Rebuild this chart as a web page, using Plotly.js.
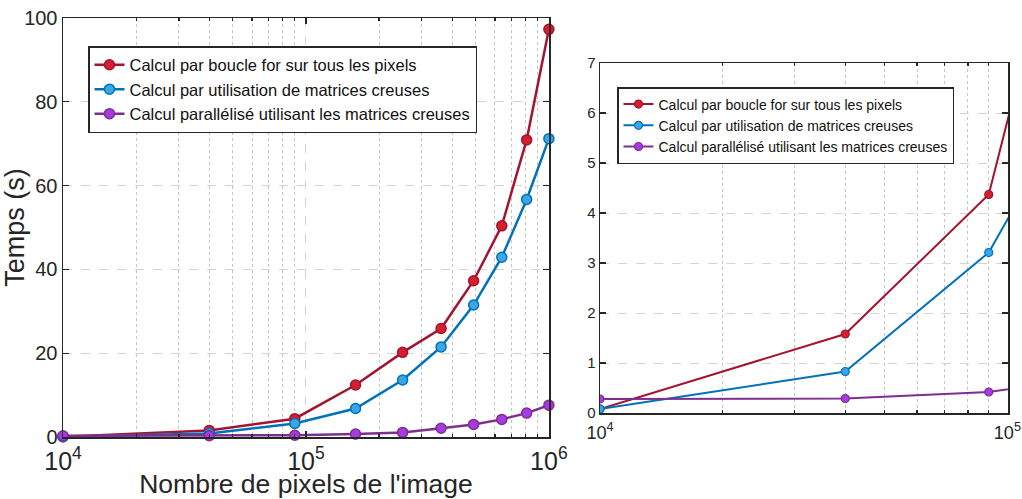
<!DOCTYPE html>
<html>
<head>
<meta charset="utf-8">
<script src="https://cdn.plot.ly/plotly-3.0.1.min.js"></script>
<style>html,body{margin:0;padding:0;background:#fff;}#chart{width:1022px;height:499px;}</style>
</head>
<body>
<div id="chart"></div>
<script>
// Number of pixels in the image (100x100 ... 1000x1000)
const nbPixels = [1e4, 4e4, 9e4, 1.6e5, 2.5e5, 3.6e5, 4.9e5, 6.4e5, 8.1e5, 1e6];
// Computation times (s)
const tBoucle    = [0.08, 1.58, 4.37, 12.4, 20.2, 25.9, 37.3, 50.4, 70.9, 97.3];
const tCreuses   = [0.08, 0.83, 3.21, 6.8, 13.6, 21.5, 31.5, 42.9, 56.7, 71.2];
const tParallele = [0.28, 0.29, 0.42, 0.7, 1.1, 2.1, 3.0, 4.2, 5.7, 7.6];
const seriesNames = [
  'Calcul par boucle for sur tous les pixels',
  'Calcul par utilisation de matrices creuses',
  'Calcul parallélisé utilisant les matrices creuses'
];
const lineColors = ['#A2142F', '#0072BD', '#7E2F8E'];
const fillColors = ['#D51F2E', '#3AA6E4', '#A53BE0'];
const seriesData = [tBoucle, tCreuses, tParallele];

const traces = [];
seriesData.forEach((vals, i) => {
  traces.push({
    x: nbPixels, y: vals, xaxis: 'x', yaxis: 'y', legend: 'legend',
    name: seriesNames[i], mode: 'lines+markers',
    line: {color: lineColors[i], width: 2.5},
    marker: {size: 10, color: fillColors[i], line: {color: lineColors[i], width: 1.5}},
    cliponaxis: false
  });
});
seriesData.forEach((vals, i) => {
  traces.push({
    x: nbPixels, y: vals, xaxis: 'x2', yaxis: 'y2', legend: 'legend2',
    name: seriesNames[i], mode: 'lines+markers',
    line: {color: lineColors[i], width: 2},
    marker: {size: 8, color: fillColors[i], line: {color: lineColors[i], width: 1.2}}
  });
});

const W = 1022, H = 499;
const font = 'Liberation Sans, Arial, sans-serif';
function xLog(range, fs) {
  return {
    type: 'log', range: range, dtick: 1, exponentformat: 'power', showexponent: 'all',
    tickfont: {size: fs, color: '#262626', family: font},
    ticks: 'inside', ticklen: 6, tickcolor: '#262626', tickwidth: 1.2,
    mirror: 'ticks', showline: true, linewidth: 1.5, linecolor: '#262626',
    showgrid: true, gridcolor: '#d4d4d4', griddash: 'dash', gridwidth: 1,
    zeroline: false, automargin: false, ticklabeloverflow: 'allow',
    minor: {dtick: 'D1', showgrid: true, gridcolor: '#c4c4c4', griddash: 'dot', gridwidth: 1,
            ticks: 'inside', ticklen: 3, tickcolor: '#262626'}
  };
}
function yLin(range, dtick, fs) {
  return {
    range: range, dtick: dtick,
    tickfont: {size: fs, color: '#262626', family: font},
    ticks: 'inside', ticklen: 6, tickcolor: '#262626', tickwidth: 1.2,
    mirror: 'ticks', showline: true, linewidth: 1.5, linecolor: '#262626',
    showgrid: true, gridcolor: '#d4d4d4', griddash: 'dash', gridwidth: 1,
    zeroline: false, automargin: false
  };
}

const xa = xLog([4, 6.0005], 20);
xa.domain = [63 / W, 549 / W];
xa.anchor = 'y';
xa.ticklabelstandoff = 2;
xa.title = {text: "Nombre de pixels de l'image", font: {size: 26.5, color: '#262626', family: font}, standoff: 6};
const ya = yLin([0, 100], 20, 20);
ya.domain = [(H - 437) / H, (H - 18) / H];
ya.anchor = 'x';
ya.title = {text: 'Temps (s)', font: {size: 27, color: '#262626', family: font}, standoff: 3};

const xb = xLog([4, 5.0015], 14.5);
xb.domain = [600 / W, 1008 / W];
xb.anchor = 'y2';
xb.ticklabelstandoff = 3;
const yb = yLin([0, 7], 1, 15);
yb.domain = [(H - 413) / H, (H - 63) / H];
yb.anchor = 'x2';

const layout = {
  width: W, height: H,
  margin: {l: 0, r: 0, t: 0, b: 0},
  paper_bgcolor: '#fff', plot_bgcolor: '#fff',
  font: {family: font, color: '#262626'},
  xaxis: xa, yaxis: ya, xaxis2: xb, yaxis2: yb,
  showlegend: true,
  legend: {
    x: 88 / W, y: (H - 46) / H, xanchor: 'left', yanchor: 'top',
    bgcolor: '#fff', bordercolor: '#262626', borderwidth: 1.5,
    font: {size: 16.5, color: '#111', family: font}, tracegroupgap: 0,
    itemwidth: 30
  },
  legend2: {
    x: 617 / W, y: (H - 87) / H, xanchor: 'left', yanchor: 'top',
    bgcolor: '#fff', bordercolor: '#262626', borderwidth: 1.5,
    font: {size: 14, color: '#111', family: font}, tracegroupgap: 0,
    itemwidth: 30
  }
};

Plotly.newPlot('chart', traces, layout, {displayModeBar: false, staticPlot: true});
</script>
</body>
</html>
